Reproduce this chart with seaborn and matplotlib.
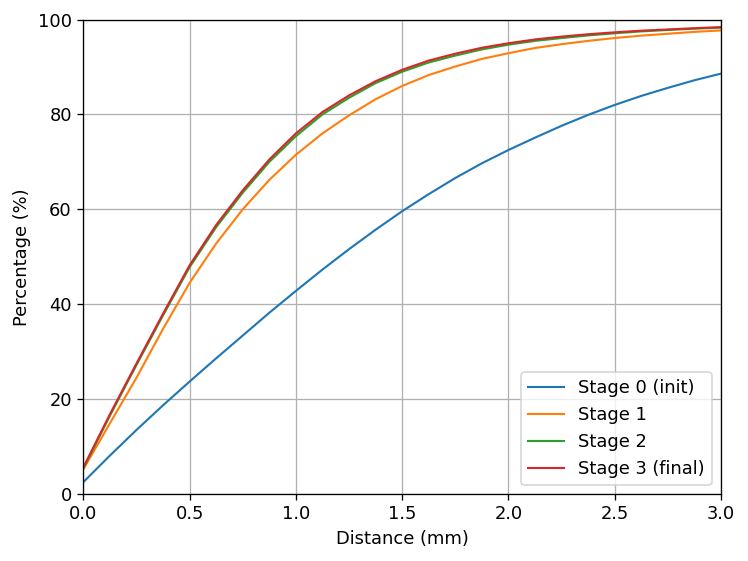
import pandas as pd
import seaborn as sns
import matplotlib
matplotlib.use("Agg")
import matplotlib.pyplot as plt

distance = [0.0, 0.125, 0.25, 0.375, 0.5, 0.625, 0.75, 0.875, 1.0, 1.125, 1.25, 1.375,
            1.5, 1.625, 1.75, 1.875, 2.0, 2.125, 2.25, 2.375, 2.5, 2.625, 2.75, 2.875, 3.0]

stage0 = [2.5, 8.1, 13.5, 18.7, 23.7, 28.6, 33.4, 38.2, 42.8, 47.3, 51.6, 55.7,
          59.6, 63.2, 66.6, 69.7, 72.5, 75.1, 77.6, 79.9, 82.0, 83.9, 85.6, 87.2, 88.6]
stage1 = [5.2, 14.9, 24.5, 34.8, 44.5, 52.8, 60.0, 66.2, 71.5, 76.0, 79.8, 83.2,
          86.0, 88.3, 90.1, 91.7, 92.9, 94.0, 94.8, 95.5, 96.1, 96.6, 97.0, 97.4, 97.7]
stage2 = [5.4, 16.5, 27.2, 37.65, 47.8, 56.25, 63.5, 70.0, 75.4, 80.0, 83.5, 86.6,
          89.0, 90.95, 92.4, 93.7, 94.7, 95.5, 96.1, 96.65, 97.1, 97.5, 97.8, 98.07, 98.3]
stage3 = [5.6, 16.8, 27.5, 38.0, 48.2, 56.7, 64.0, 70.5, 76.0, 80.5, 84.0, 87.0,
          89.4, 91.35, 92.8, 94.05, 95.0, 95.8, 96.4, 96.9, 97.3, 97.65, 97.9, 98.17, 98.4]

stage_names = ["Stage 0 (init)", "Stage 1", "Stage 2", "Stage 3 (final)"]

df = pd.concat([
    pd.DataFrame({"Distance": distance, "Percentage": vals, "Stage": name})
    for name, vals in zip(stage_names, [stage0, stage1, stage2, stage3])
])

plt.rcParams['font.size'] = 11

fig, ax = plt.subplots(figsize=(6.4, 4.8), dpi=116.875)
sns.lineplot(data=df, x="Distance", y="Percentage", hue="Stage",
             hue_order=stage_names, palette="tab10", linewidth=1.3, ax=ax)

ax.set_xlim(0, 3)
ax.set_ylim(0, 100)
ax.set_xlabel("Distance (mm)")
ax.set_ylabel("Percentage (%)")
ax.grid(True)
sns.move_legend(ax, "lower right", title=None)

plt.subplots_adjust(left=0.1114, right=0.9639, top=0.9652, bottom=0.1194)
plt.savefig("out.png", dpi=116.875)
